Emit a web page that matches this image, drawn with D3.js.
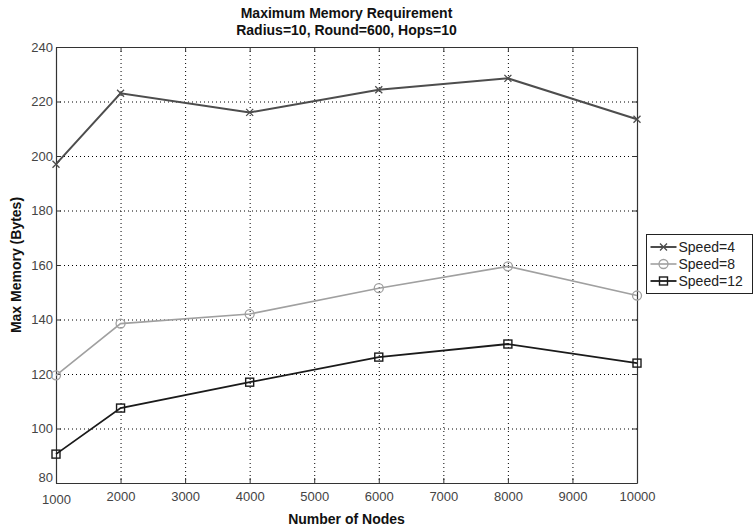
<!DOCTYPE html>
<html>
<head>
<meta charset="utf-8">
<script src="https://cdn.jsdelivr.net/npm/d3@7"></script>
<style>
  body { margin: 0; background: #fff; }
  text { font-family: "Liberation Sans", Arial, sans-serif; }
</style>
</head>
<body>
<div class="chart"></div>
<script>
// data
var nodes = [1000, 2000, 4000, 6000, 8000, 10000];
var speed4 = [197, 223, 216, 224.3, 228.5, 213.5];
var speed8 = [119.5, 138.5, 142, 151.5, 159.5, 148.8];
var speed12 = [90.6, 107.5, 117, 126.2, 131, 124];
var seriesNames = ["Speed=4", "Speed=8", "Speed=12"];
var xTicks = [1000, 2000, 3000, 4000, 5000, 6000, 7000, 8000, 9000, 10000];
var yTicks = [80, 100, 120, 140, 160, 180, 200, 220, 240];

var series = [
  {name: seriesNames[0], values: speed4, color: "#4d4d4d", width: 2, marker: "x"},
  {name: seriesNames[1], values: speed8, color: "#a0a0a0", width: 1.6, marker: "o"},
  {name: seriesNames[2], values: speed12, color: "#1a1a1a", width: 1.8, marker: "s"}
];

// plot box
var margin = {top: 47, right: 116, bottom: 47, left: 56},
    width = 753 - margin.left - margin.right,
    height = 530 - margin.top - margin.bottom;

var x = d3.scaleLinear().domain([1000, 10000]).range([0, width]);
var y = d3.scaleLinear().domain([80, 240]).range([height, 0]);

var svg = d3.select(".chart").append("svg")
    .attr("width", 753)
    .attr("height", 530);

var g = svg.append("g")
    .attr("transform", "translate(" + margin.left + "," + margin.top + ")");

// dotted grid
g.selectAll(".vgrid")
    .data(xTicks.slice(1, -1))
    .enter().append("line")
    .attr("x1", function(d) { return x(d) + 0.5; })
    .attr("x2", function(d) { return x(d) + 0.5; })
    .attr("y1", 0).attr("y2", height)
    .attr("stroke", "#000").attr("stroke-width", 1)
    .attr("stroke-dasharray", "1,3");
g.selectAll(".hgrid")
    .data(yTicks.slice(1, -1))
    .enter().append("line")
    .attr("y1", function(d) { return y(d) + 0.5; })
    .attr("y2", function(d) { return y(d) + 0.5; })
    .attr("x1", 0).attr("x2", width)
    .attr("stroke", "#000").attr("stroke-width", 1)
    .attr("stroke-dasharray", "1,3");

// axes, ticks pointing inwards (matlab box)
var xAxis = g.append("g")
    .attr("transform", "translate(0," + height + ")")
    .call(d3.axisBottom(x).tickValues(xTicks).tickSizeInner(-5).tickSizeOuter(0).tickPadding(9).tickFormat(d3.format("d")));
var xTop = g.append("g")
    .call(d3.axisTop(x).tickValues(xTicks).tickSizeInner(-5).tickSizeOuter(0).tickFormat(""));
var yAxis = g.append("g")
    .call(d3.axisLeft(y).tickValues(yTicks).tickSizeInner(-5).tickSizeOuter(0).tickPadding(3));
var yRight = g.append("g")
    .attr("transform", "translate(" + width + ",0)")
    .call(d3.axisRight(y).tickValues(yTicks).tickSizeInner(-5).tickSizeOuter(0).tickFormat(""));

[xAxis, xTop, yAxis, yRight].forEach(function(a) {
  a.select(".domain").attr("stroke", "#333").attr("stroke-width", 1.2);
  a.selectAll(".tick line").attr("stroke", "#333");
  a.selectAll("text").attr("font-size", 13).attr("fill", "#444")
    .attr("font-family", "Liberation Sans, Arial, sans-serif");
});
// matlab nudges the corner labels
yAxis.selectAll(".tick text").filter(function(d) { return d === 80; }).attr("dy", "-0.1em");
xAxis.selectAll(".tick text").filter(function(d) { return d === 1000; }).attr("dy", "0.95em");

// lines and markers
var line = d3.line()
    .x(function(d, i) { return x(nodes[i]); })
    .y(function(d) { return y(d); });

function drawMarker(sel, type, color) {
  if (type === "x") {
    sel.append("path").attr("d", "M-3.5,-3.5L3.5,3.5M-3.5,3.5L3.5,-3.5")
      .attr("stroke", color).attr("stroke-width", 1.3).attr("fill", "none");
  } else if (type === "o") {
    sel.append("circle").attr("r", 4.5)
      .attr("stroke", color).attr("stroke-width", 1.3).attr("fill", "none");
  } else {
    sel.append("rect").attr("x", -4).attr("y", -4).attr("width", 8).attr("height", 8)
      .attr("stroke", color).attr("stroke-width", 1.4).attr("fill", "none");
  }
}

series.forEach(function(s) {
  g.append("path")
    .datum(s.values)
    .attr("d", line)
    .attr("fill", "none")
    .attr("stroke", s.color)
    .attr("stroke-width", s.width);
  g.selectAll(null)
    .data(s.values)
    .enter().append("g")
    .attr("transform", function(d, i) { return "translate(" + x(nodes[i]) + "," + y(d) + ")"; })
    .each(function() { drawMarker(d3.select(this), s.marker, s.color); });
});

// legend
var legend = svg.append("g").attr("transform", "translate(646.5,234.5)");
legend.append("rect")
  .attr("width", 106).attr("height", 59)
  .attr("fill", "#fff").attr("stroke", "#222").attr("stroke-width", 1);
series.forEach(function(s, i) {
  var row = legend.append("g").attr("transform", "translate(0," + (12.5 + i * 17) + ")");
  row.append("line").attr("x1", 4).attr("x2", 30).attr("y1", 0).attr("y2", 0)
    .attr("stroke", s.color).attr("stroke-width", s.width);
  var m = row.append("g").attr("transform", "translate(17,0)");
  drawMarker(m, s.marker, s.color);
  row.append("text").attr("x", 32).attr("y", 0).attr("dy", "0.35em")
    .attr("font-size", 14).attr("fill", "#222").text(s.name);
});

// titles
var cx = margin.left + width / 2;
svg.append("text").attr("x", cx).attr("y", 18).attr("text-anchor", "middle")
  .attr("font-size", 14).attr("font-weight", "bold").attr("fill", "#111")
  .text("Maximum Memory Requirement");
svg.append("text").attr("x", cx).attr("y", 35).attr("text-anchor", "middle")
  .attr("font-size", 14).attr("font-weight", "bold").attr("fill", "#111")
  .text("Radius=10, Round=600, Hops=10");
svg.append("text").attr("x", cx).attr("y", 524).attr("text-anchor", "middle")
  .attr("font-size", 14).attr("font-weight", "bold").attr("fill", "#111")
  .text("Number of Nodes");
svg.append("text")
  .attr("transform", "translate(21," + (margin.top + height / 2) + ") rotate(-90)")
  .attr("text-anchor", "middle")
  .attr("font-size", 14).attr("font-weight", "bold").attr("fill", "#111")
  .text("Max Memory (Bytes)");
</script>
</body>
</html>
